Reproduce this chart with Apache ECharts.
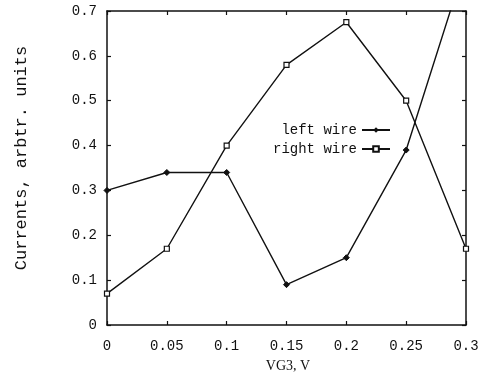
<!DOCTYPE html>
<html>
<head>
<meta charset="utf-8">
<script src="https://cdn.jsdelivr.net/npm/echarts@6/dist/echarts.min.js"></script>
<style>
  html, body { margin: 0; padding: 0; background: #fff; }
  #chart { width: 487px; height: 379px; }
</style>
</head>
<body>
<div id="chart"></div>
<script>
const vg3 = [0, 0.05, 0.1, 0.15, 0.2, 0.25, 0.3];
const leftWire = [0.30, 0.34, 0.34, 0.09, 0.15, 0.39, 0.81];
const rightWire = [0.07, 0.17, 0.40, 0.58, 0.675, 0.50, 0.17];
const xTicks = ['0', '0.05', '0.1', '0.15', '0.2', '0.25', '0.3'];
const yTicks = ['0', '0.1', '0.2', '0.3', '0.4', '0.5', '0.6', '0.7'];

const mono = '"Liberation Mono", "DejaVu Sans Mono", monospace';
const ink = '#111';

const pairs = (ys) => vg3.map((x, i) => [x, ys[i]]);

const axisBase = {
    type: 'value',
    axisLine: {show: true, onZero: false, lineStyle: {color: ink, width: 1.5}},
    axisTick: {show: true, inside: true, length: 4, lineStyle: {color: ink, width: 1.2}},
    splitLine: {show: false}
};

const myChart = echarts.init(document.getElementById('chart'));
myChart.setOption({
    animation: false,
    backgroundColor: '#fff',
    textStyle: {fontFamily: mono, color: ink},
    grid: {left: 107, right: 21, top: 11, bottom: 54},
    legend: {
        orient: 'vertical',
        left: 268,
        top: 118,
        align: 'right',
        itemWidth: 28,
        itemHeight: 7,
        itemGap: 5,
        formatter: (name) => name.padStart(10),
        textStyle: {fontFamily: mono, fontSize: 14, color: ink},
        data: ['left wire', 'right wire']
    },
    xAxis: [
        Object.assign({}, axisBase, {
            min: 0, max: 0.3, interval: 0.05,
            axisLabel: {
                fontSize: 14, color: ink, margin: 14,
                formatter: (v) => xTicks[Math.round(v / 0.05)]
            }
        }),
        Object.assign({}, axisBase, {
            position: 'top', min: 0, max: 0.3, interval: 0.05,
            axisLabel: {show: false}
        })
    ],
    yAxis: [
        Object.assign({}, axisBase, {
            min: 0, max: 0.7, interval: 0.1,
            axisLabel: {
                fontSize: 14, color: ink, margin: 10,
                formatter: (v) => yTicks[Math.round(v / 0.1)]
            }
        }),
        Object.assign({}, axisBase, {
            position: 'right', min: 0, max: 0.7, interval: 0.1,
            axisLabel: {show: false}
        })
    ],
    graphic: [
        {
            type: 'text',
            x: 21, y: 158,
            rotation: Math.PI / 2,
            style: {
                text: 'Currents, arbtr. units',
                font: '17px ' + mono,
                fill: ink,
                align: 'center',
                verticalAlign: 'middle'
            }
        },
        {
            type: 'text',
            x: 288, y: 366,
            style: {
                text: 'VG3, V',
                font: '14px "Liberation Serif", serif',
                fill: ink,
                align: 'center',
                verticalAlign: 'middle'
            }
        }
    ],
    series: [
        {
            name: 'left wire',
            type: 'line',
            data: pairs(leftWire),
            clip: true,
            symbol: 'diamond',
            symbolSize: 6,
            lineStyle: {color: ink, width: 1.4},
            itemStyle: {color: ink, borderColor: ink}
        },
        {
            name: 'right wire',
            type: 'line',
            data: pairs(rightWire),
            clip: true,
            symbol: 'rect',
            symbolSize: 5,
            lineStyle: {color: ink, width: 1.4},
            itemStyle: {color: '#fff', borderColor: ink, borderWidth: 1.2}
        }
    ]
});
</script>
</body>
</html>
